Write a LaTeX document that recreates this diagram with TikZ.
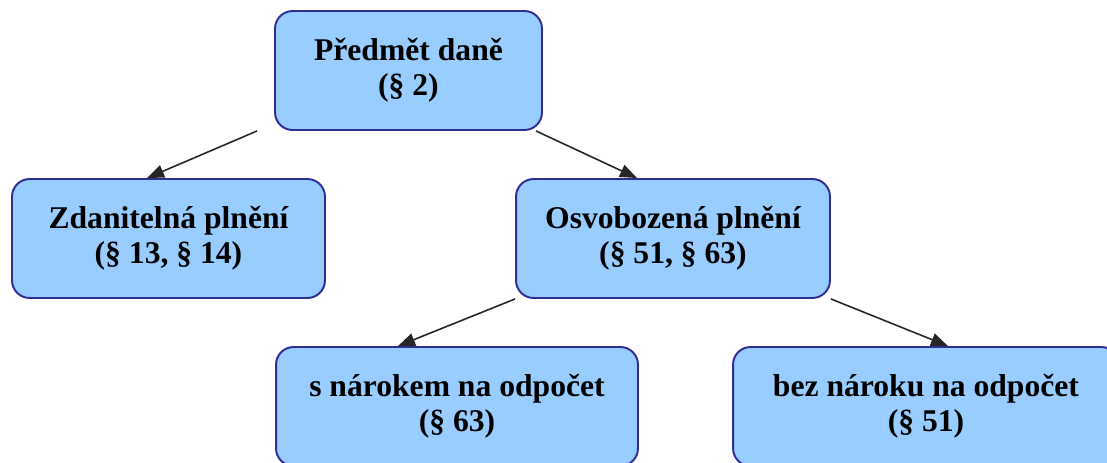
\documentclass[tikz,border=0pt]{standalone}
\usepackage{fontspec}
\setmainfont{Liberation Serif}
\usetikzlibrary{arrows.meta,positioning}
\definecolor{boxblue}{HTML}{99CCFF}
\definecolor{boxline}{HTML}{2E2E96}
\tikzset{
  taxbox/.style={rectangle,rounded corners=10pt,draw=boxline,line width=1.1pt,fill=boxblue,align=center,inner sep=4pt,minimum height=2.38cm,font=\fontsize{18}{20}\selectfont\bfseries},
  arrow/.style={-{Triangle[length=3.4mm,width=2.6mm]},line width=0.9pt,black!85}
}

\begin{document}
\begin{tikzpicture}[x=0.02cm,y=-0.02cm]
  \clip (0,0) rectangle (1107,463);
  % levels of the tree
  \node[taxbox,minimum width=5.34cm] (predmet) at (408.5,70.5) {Předmět daně\\(§ 2)};
  \node[taxbox,minimum width=6.26cm] (zdanitelna) at (168.5,238.5) {Zdanitelná plnění\\(§ 13, § 14)};
  \node[taxbox,minimum width=6.28cm] (osvobozena) at (673,238.5) {Osvobozená plnění\\(§ 51, § 63)};
  \node[taxbox,minimum width=7.24cm] (narok) at (457,406.5) {s nárokem na odpočet\\(§ 63)};
  \node[taxbox,minimum width=7.72cm] (beznaroku) at (926,406.5) {bez nároku na odpočet\\(§ 51)};
  % arrows
  \draw[arrow] ([xshift=-0.34cm]predmet.south west) -- ([xshift=-0.43cm]zdanitelna.north);
  \draw[arrow] ([xshift=-0.14cm]predmet.south east) -- ([xshift=-0.72cm]osvobozena.north);
  \draw[arrow] (osvobozena.south west) -- ([xshift=-1.18cm]narok.north);
  \draw[arrow] (osvobozena.south east) -- ([xshift=0.44cm]beznaroku.north);
\end{tikzpicture}
\end{document}
